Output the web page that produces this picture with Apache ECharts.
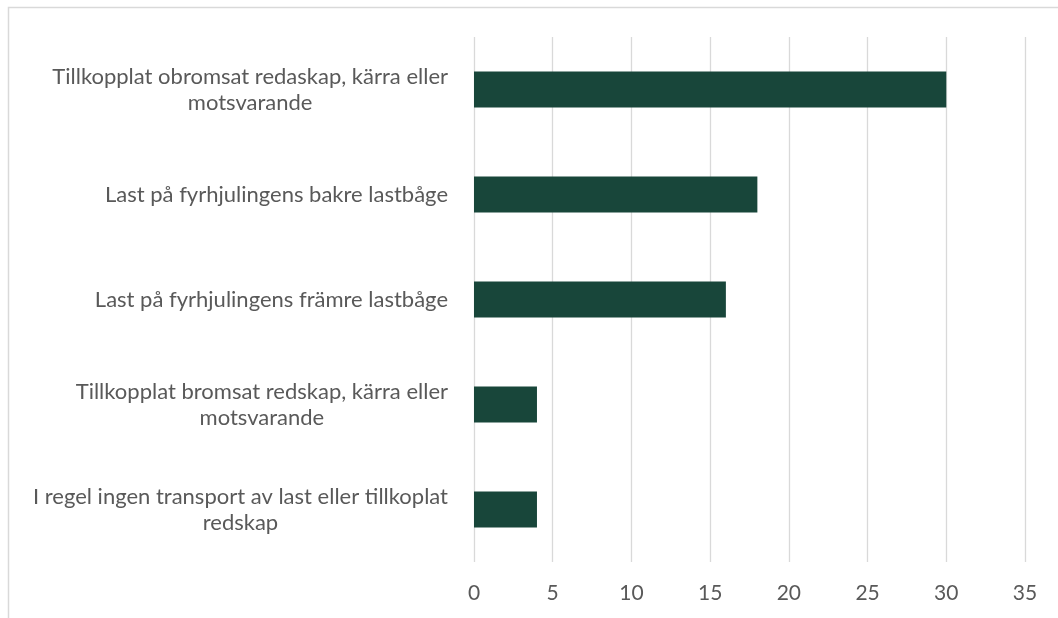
<!DOCTYPE html>
<html>
<head>
<meta charset="utf-8">
<script src="https://cdn.jsdelivr.net/npm/echarts@6/dist/echarts.min.js"></script>
<style>
  html, body { margin: 0; padding: 0; background: #fff; }
  #chart { width: 1058px; height: 618px; }
</style>
</head>
<body>
<div id="chart"></div>
<script>
const categories = [
  'Tillkopplat obromsat redaskap, kärra eller\nmotsvarande',
  'Last på fyrhjulingens bakre lastbåge',
  'Last på fyrhjulingens främre lastbåge',
  'Tillkopplat bromsat redskap, kärra eller\nmotsvarande',
  'I regel ingen transport av last eller tillkoplat\nredskap'
]
const values = [30, 18, 16, 4, 4]

const textColor = '#595959'
const fontFamily = 'Lato, "Open Sans", sans-serif'

const chart = echarts.init(document.getElementById('chart'))
chart.setOption({
  animation: false,
  textStyle: { fontFamily: fontFamily },
  graphic: [
    {
      type: 'rect',
      shape: { x: 8.5, y: 7.5, width: 1200, height: 800 },
      style: { fill: 'none', stroke: '#d9d9d9', lineWidth: 1.5 }
    }
  ],
  grid: {
    left: 474,
    right: 33,
    top: 37,
    bottom: 56
  },
  xAxis: {
    type: 'value',
    min: 0,
    max: 35,
    interval: 5,
    axisLine: { show: false },
    axisTick: { show: false },
    splitLine: { lineStyle: { color: '#d9d9d9', width: 1.3 } },
    axisLabel: { color: textColor, fontSize: 21, margin: 21, fontFamily: fontFamily }
  },
  yAxis: {
    type: 'category',
    inverse: true,
    data: categories,
    axisLine: { show: false },
    axisTick: { show: false },
    axisLabel: {
      margin: 26,
      color: textColor,
      fontSize: 22,
      lineHeight: 26,
      fontFamily: fontFamily,
      formatter: (v) => v.split('\n').map((l) => '{c|' + l + '}').join('\n'),
      rich: {
        c: { align: 'center', color: textColor, fontSize: 22, lineHeight: 26, fontFamily: fontFamily }
      }
    }
  },
  series: [
    {
      type: 'bar',
      data: values,
      barWidth: 36,
      itemStyle: { color: '#18463a' }
    }
  ]
})
</script>
</body>
</html>
